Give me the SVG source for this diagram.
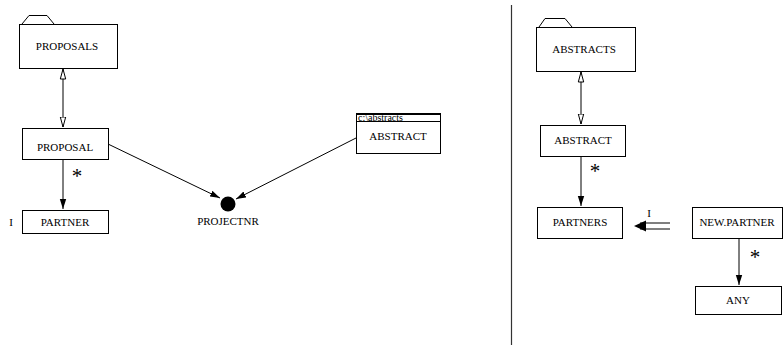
<svg xmlns="http://www.w3.org/2000/svg" width="784" height="345" viewBox="0 0 784 345">
<defs>
<style>
.box{fill:#fff;stroke:#000;stroke-width:1}
.t{font-family:"Liberation Serif","Times New Roman",serif;font-size:11px;fill:#000;text-anchor:middle}
.st{font-family:"Liberation Serif","Times New Roman",serif;font-size:21px;fill:#000;text-anchor:middle}
.s{font-family:"Liberation Serif","Times New Roman",serif;font-size:10px;fill:#000}
.c{stroke:#000;stroke-width:1;fill:none}
</style>
<marker id="fa" markerWidth="10" markerHeight="8" refX="10" refY="4" orient="auto" markerUnits="userSpaceOnUse">
<path d="M0,0.8 L10,4 L0,7.2 Z" fill="#000"/>
</marker>
<marker id="oa" markerWidth="11" markerHeight="8" refX="10.5" refY="4" orient="auto" markerUnits="userSpaceOnUse">
<path d="M0.5,1.3 L10.5,4 L0.5,6.7 Z" fill="#fff" stroke="#000" stroke-width="1"/>
</marker>
<marker id="oas" markerWidth="11" markerHeight="8" refX="0.5" refY="4" orient="auto" markerUnits="userSpaceOnUse">
<path d="M10.5,1.3 L0.5,4 L10.5,6.7 Z" fill="#fff" stroke="#000" stroke-width="1"/>
</marker>
</defs>
<rect width="784" height="345" fill="#fff"/>

<line x1="511.5" y1="5" x2="511.5" y2="345" stroke="#333" stroke-width="1.2"/>

<g id="connectors">
<line class="c" x1="63" y1="69" x2="63" y2="127" marker-start="url(#oas)" marker-end="url(#oa)"/>
<line class="c" x1="63" y1="159" x2="63" y2="209" marker-end="url(#fa)"/>
<text class="st" x="77" y="183">*</text>
<line class="c" x1="108" y1="144" x2="220" y2="198" marker-end="url(#fa)"/>
<line class="c" x1="356" y1="138" x2="236" y2="199" marker-end="url(#fa)"/>
<line class="c" x1="581" y1="72" x2="581" y2="124" marker-start="url(#oas)" marker-end="url(#oa)"/>
<line class="c" x1="581" y1="156" x2="581" y2="206" marker-end="url(#fa)"/>
<text class="st" x="595" y="178">*</text>
<line class="c" x1="640" y1="223" x2="670" y2="223"/>
<line class="c" x1="640" y1="229" x2="670" y2="229"/>
<path d="M634,226 L646,220.5 L646,231.5 Z" fill="#000"/>
<text class="t" x="649" y="217">I</text>
<line class="c" x1="739" y1="239" x2="739" y2="285" marker-end="url(#fa)"/>
<text class="st" x="755" y="264">*</text>
</g>

<g id="proposals">
<path class="box" d="M22,24 L29,15.5 L47,15.5 L54,24"/>
<rect class="box" x="19.5" y="24.5" width="98" height="44"/>
<text class="t" x="67" y="50">PROPOSALS</text>
</g>
<g id="proposal">
<rect class="box" x="22.5" y="128.5" width="86" height="31"/>
<text class="t" x="65" y="151">PROPOSAL</text>
</g>
<g id="partner">
<rect class="box" x="22.5" y="210.5" width="86" height="23"/>
<text class="t" x="65" y="226">PARTNER</text>
<text class="t" x="11" y="226">I</text>
</g>
<g id="projectnr">
<circle cx="228" cy="204" r="7.5" fill="#000"/>
<text class="t" x="228" y="225">PROJECTNR</text>
</g>
<g id="abstract-left">
<rect class="box" x="356.5" y="113.5" width="84" height="40"/>
<line class="c" x1="356.5" y1="114.5" x2="440.5" y2="114.5"/>
<line class="c" x1="356.5" y1="121.5" x2="440.5" y2="121.5"/>
<text class="s" x="358" y="121">c:\abstracts</text>
<text class="t" x="398" y="140">ABSTRACT</text>
</g>

<g id="abstracts">
<path class="box" d="M539,27 L545,18.5 L565,18.5 L572,27"/>
<rect class="box" x="536.5" y="27.5" width="99" height="44"/>
<text class="t" x="584" y="53">ABSTRACTS</text>
</g>
<g id="abstract-right">
<rect class="box" x="540.5" y="125.5" width="85" height="31"/>
<text class="t" x="583" y="144">ABSTRACT</text>
</g>
<g id="partners">
<rect class="box" x="537.5" y="207.5" width="85" height="31"/>
<text class="t" x="580" y="226">PARTNERS</text>
</g>
<g id="new-partner">
<rect class="box" x="692.5" y="207.5" width="90" height="31"/>
<text class="t" x="737" y="226">NEW.PARTNER</text>
</g>
<g id="any">
<rect class="box" x="695.5" y="286.5" width="86" height="28"/>
<text class="t" x="738" y="304">ANY</text>
</g>
</svg>
